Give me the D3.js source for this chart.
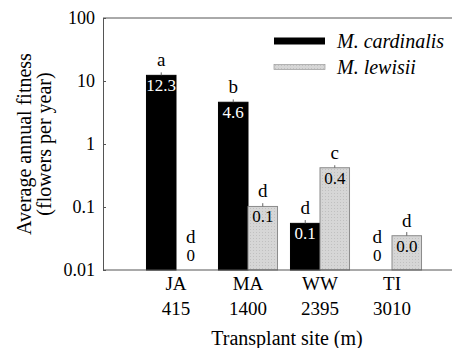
<!DOCTYPE html>
<html>
<head>
<meta charset="utf-8">
<script src="https://cdn.jsdelivr.net/npm/d3@7/dist/d3.min.js"></script>
</head>
<body style="margin:0; background:#fff">
<svg id="fig" width="452" height="348"></svg>
<script>
// data
var sites = ["JA", "MA", "WW", "TI"];
var elevations = ["415", "1400", "2395", "3010"];
var species = ["M. cardinalis", "M. lewisii"];
var cardinalis = [12.3, 4.6, 0.055, 0];
var lewisii = [0, 0.102, 0.42, 0.035];
var cardinalisErr = [13.7, 5.1, 0.062, 0];
var lewisiiErr = [0, 0.115, 0.46, 0.04];
var cardinalisLabels = ["12.3", "4.6", "0.1", "0"];
var lewisiiLabels = ["0", "0.1", "0.4", "0.0"];
var cardinalisLetters = ["a", "b", "d", "d"];
var lewisiiLetters = ["d", "d", "c", "d"];
var yTicks = [0.01, 0.1, 1, 10, 100];

var width = 452, height = 348;
var margin = { top: 18, left: 103, bottom: 78 };
var plotBottom = height - margin.bottom;
var serif = "'Liberation Serif', 'Times New Roman', serif";

var svg = d3.select("#fig");

var y = d3.scaleLog().domain([0.01, 100]).range([plotBottom, margin.top]);

var x0 = d3.scaleBand().domain(sites).range([140, 428])
  .paddingInner(0.18).paddingOuter(0.09);
var x1 = d3.scaleBand().domain(species).range([0, x0.bandwidth()]);

// build rows
var rows = [];
sites.forEach(function (s, i) {
  rows.push({ site: s, sp: species[0], v: cardinalis[i], err: cardinalisErr[i], lab: cardinalisLabels[i], letter: cardinalisLetters[i] });
  rows.push({ site: s, sp: species[1], v: lewisii[i], err: lewisiiErr[i], lab: lewisiiLabels[i], letter: lewisiiLetters[i] });
});

// stipple pattern for the grey bars
var defs = svg.append("defs");
var pat = defs.append("pattern").attr("id", "stip")
  .attr("width", 3).attr("height", 3).attr("patternUnits", "userSpaceOnUse");
pat.append("rect").attr("width", 3).attr("height", 3).attr("fill", "#d6d6d6");
pat.append("rect").attr("x", 1).attr("y", 1).attr("width", 1).attr("height", 1).attr("fill", "#c0c0c0");

var bx = function (d) { return x0(d.site) + x1(d.sp); };
var bw = x1.bandwidth();

var bars = rows.filter(function (d) { return d.v > 0; });

svg.selectAll("rect.bar")
  .data(bars)
  .join("rect")
  .attr("class", "bar")
  .attr("x", bx)
  .attr("y", function (d) { return y(d.v); })
  .attr("width", bw)
  .attr("height", function (d) { return plotBottom - y(d.v); })
  .attr("fill", function (d) { return d.sp == species[0] ? "#000" : "url(#stip)"; })
  .attr("stroke", function (d) { return d.sp == species[0] ? "#000" : "#8a8a8a"; })
  .attr("stroke-width", 1);

// error bars
svg.selectAll("line.err")
  .data(bars)
  .join("line")
  .attr("class", "err")
  .attr("x1", function (d) { return bx(d) + bw / 2; })
  .attr("x2", function (d) { return bx(d) + bw / 2; })
  .attr("y1", function (d) { return y(d.v); })
  .attr("y2", function (d) { return y(d.err); })
  .attr("stroke", "#666")
  .attr("stroke-width", 1);

// value labels inside bars
svg.selectAll("text.val")
  .data(rows)
  .join("text")
  .attr("class", "val")
  .attr("x", function (d) { return bx(d) + bw / 2; })
  .attr("y", function (d) { return d.v > 0 ? y(d.v) + 16 : plotBottom - 9; })
  .attr("text-anchor", "middle")
  .style("font-family", serif, "important")
  .style("font-size", "17px")
  .attr("fill", function (d) { return d.v > 0 && d.sp == species[0] ? "#fff" : "#000"; })
  .text(function (d) { return d.lab; });

// letters
svg.selectAll("text.let")
  .data(rows)
  .join("text")
  .attr("class", "let")
  .attr("x", function (d) { return bx(d) + bw / 2; })
  .attr("y", function (d) { return d.v > 0 ? y(d.v) - 9 : plotBottom - 27; })
  .attr("text-anchor", "middle")
  .style("font-family", serif, "important")
  .style("font-size", "19px")
  .attr("fill", "#000")
  .text(function (d) { return d.letter; });

// frame
svg.append("line").attr("x1", margin.left).attr("x2", width + 5)
  .attr("y1", margin.top).attr("y2", margin.top).attr("stroke", "#555");
svg.append("line").attr("x1", margin.left).attr("x2", width + 5)
  .attr("y1", plotBottom).attr("y2", plotBottom).attr("stroke", "#555");

// y axis, ticks inward
var yAxis = svg.append("g")
  .attr("transform", "translate(" + margin.left + ",0)")
  .call(d3.axisLeft(y).tickValues(yTicks).tickSizeInner(-3).tickSizeOuter(0)
    .tickFormat(function (d) { return String(d); }));
yAxis.select(".domain").attr("stroke", "#555");
yAxis.selectAll(".tick line").attr("stroke", "#555");
yAxis.selectAll(".tick text")
  .attr("x", -8)
  .attr("dy", "0.33em")
  .attr("fill", "#000")
  .style("font-family", serif, "important")
  .style("font-size", "18px");

// x category labels
var xl = svg.selectAll("g.xl").data(sites).join("g")
  .attr("class", "xl")
  .attr("transform", function (d) { return "translate(" + (x0(d) + x0.bandwidth() / 2) + ",0)"; });
xl.append("text").attr("y", 290).attr("text-anchor", "middle")
  .style("font-family", serif, "important").style("font-size", "19px").text(function (d) { return d; });
xl.append("text").attr("y", 315).attr("text-anchor", "middle")
  .style("font-family", serif, "important").style("font-size", "19px").text(function (d, i) { return elevations[i]; });

// axis titles
svg.append("text").attr("x", 287).attr("y", 345).attr("text-anchor", "middle")
  .style("font-family", serif, "important").style("font-size", "20px").text("Transplant site (m)");

var yt = svg.append("text").attr("transform", "translate(0," + ((margin.top + plotBottom) / 2) + ") rotate(-90)")
  .attr("text-anchor", "middle").style("font-family", serif, "important").style("font-size", "20px");
yt.append("tspan").attr("x", 0).attr("y", 31).text("Average annual fitness");
yt.append("tspan").attr("x", 0).attr("y", 51).text("(flowers per year)");

// legend
var leg = svg.selectAll("g.leg").data(species).join("g")
  .attr("class", "leg")
  .attr("transform", function (d, i) { return "translate(274," + (i == 0 ? 41 : 67) + ")"; });
leg.append("rect").attr("x", 0).attr("y", function (d, i) { return i == 0 ? -3.5 : -2.5; })
  .attr("width", 51).attr("height", function (d, i) { return i == 0 ? 7 : 5; })
  .attr("fill", function (d, i) { return i == 0 ? "#000" : "url(#stip)"; })
  .attr("stroke", function (d, i) { return i == 0 ? "none" : "#9a9a9a"; })
  .attr("stroke-width", 0.7);
leg.append("text").attr("x", 63).attr("y", 7)
  .style("font-family", serif, "important").style("font-size", "20px")
  .style("font-style", "italic").text(function (d) { return d; });
</script>
</body>
</html>
